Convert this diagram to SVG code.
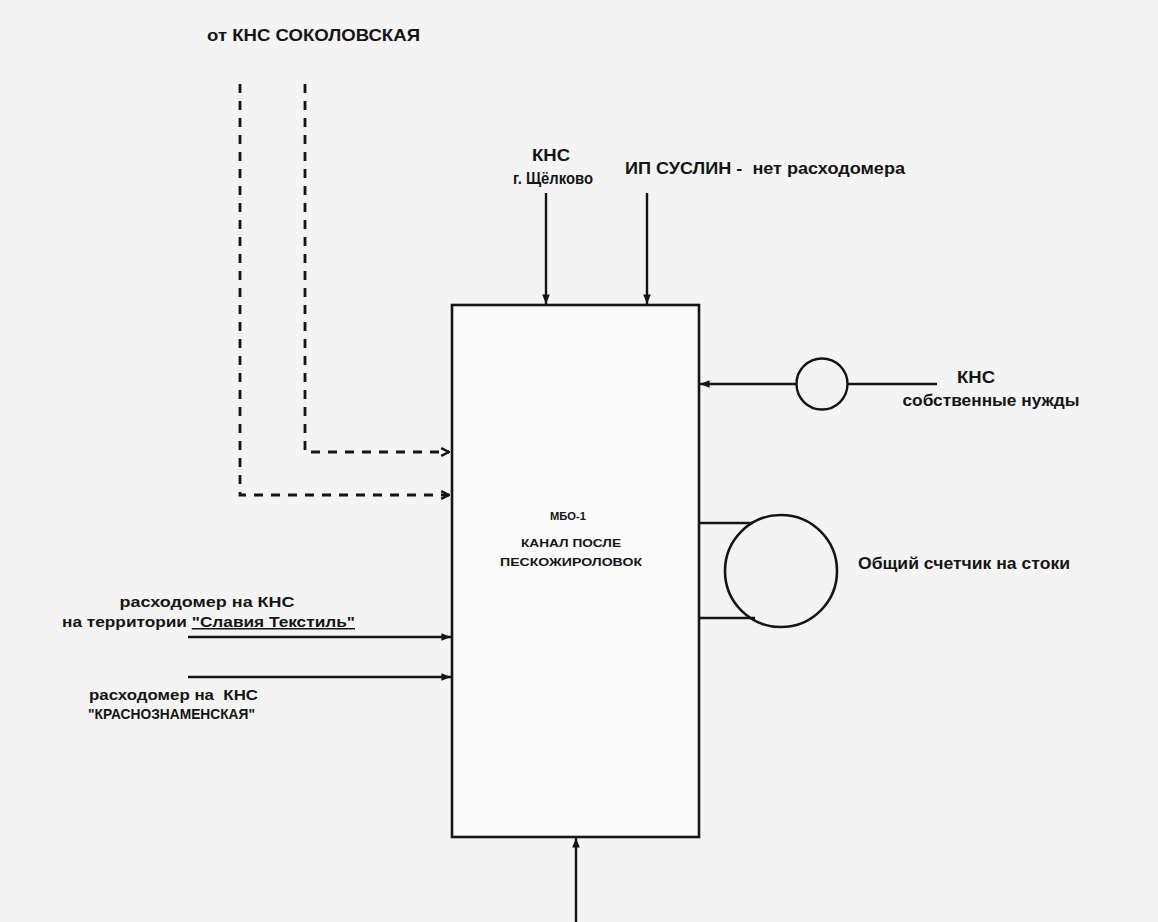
<svg xmlns="http://www.w3.org/2000/svg" width="1158" height="922" viewBox="0 0 1158 922">
<style>
.t{font-family:"Liberation Sans",Arial,sans-serif;font-weight:bold;fill:#151515}
.ln{stroke:#151515;stroke-width:2.4;fill:none}
.ds{stroke:#151515;stroke-width:2.8;fill:none;stroke-dasharray:9 8}
</style>
<defs>
<marker id="ah" viewBox="0 0 10 10" refX="10" refY="5" markerWidth="4" markerHeight="4" orient="auto" markerUnits="strokeWidth">
<path d="M0,1 L10,5 L0,9 z" fill="#151515"/>
</marker>
<marker id="ao" viewBox="0 0 10 10" refX="9" refY="5" markerWidth="3.5" markerHeight="3.5" orient="auto" markerUnits="strokeWidth">
<path d="M1,1 L9,5 L1,9" fill="none" stroke="#151515" stroke-width="2.5"/>
</marker>
</defs>
<rect width="1158" height="922" fill="#f4f4f4"/>
<g id="connectors">
<path class="ln" d="M546,193 V304" marker-end="url(#ah)"/>
<path class="ln" d="M647,193 V304" marker-end="url(#ah)"/>
<path class="ln" d="M576,922 V838" marker-end="url(#ah)"/>
<path class="ln" d="M797,384 H700" marker-end="url(#ah)"/>
<path class="ln" d="M848,384 H937"/>
<path class="ln" d="M188,637 H451" marker-end="url(#ah)"/>
<path class="ln" d="M188,677 H451" marker-end="url(#ah)"/>
<path class="ln" d="M699,523 H753"/>
<path class="ln" d="M699,618 H755"/>
<path class="ds" d="M305,84 V452 H449" marker-end="url(#ao)"/>
<path class="ds" d="M240,84 V495 H449" marker-end="url(#ao)"/>
</g>
<g id="mbo">
<rect x="452" y="305" width="247" height="532" fill="#fafafa" stroke="#151515" stroke-width="2.6"/>
<text class="t" x="568" y="520" font-size="11" text-anchor="middle" textLength="36" lengthAdjust="spacingAndGlyphs">МБО-1</text>
<text class="t" x="571" y="547" font-size="11" text-anchor="middle" textLength="100" lengthAdjust="spacingAndGlyphs">КАНАЛ ПОСЛЕ</text>
<text class="t" x="571" y="566" font-size="11" text-anchor="middle" textLength="142" lengthAdjust="spacingAndGlyphs">ПЕСКОЖИРОЛОВОК</text>
</g>
<g id="meter-small">
<circle cx="822" cy="384" r="25.5" fill="none" stroke="#151515" stroke-width="2.4"/>
</g>
<g id="meter-main">
<circle cx="781" cy="571" r="56" fill="none" stroke="#151515" stroke-width="2.6"/>
<text class="t" x="858" y="569" font-size="16" textLength="212" lengthAdjust="spacingAndGlyphs">Общий счетчик на стоки</text>
</g>
<g id="src-sokol">
<text class="t" x="207" y="41" font-size="17" textLength="213" lengthAdjust="spacingAndGlyphs">от КНС СОКОЛОВСКАЯ</text>
</g>
<g id="src-shchelkovo">
<text class="t" x="551" y="161" font-size="16" text-anchor="middle" textLength="38" lengthAdjust="spacingAndGlyphs">КНС</text>
<text class="t" x="553" y="184" font-size="16" text-anchor="middle" textLength="80" lengthAdjust="spacingAndGlyphs">г. Щёлково</text>
</g>
<g id="src-suslin">
<text class="t" x="625" y="174" font-size="16" textLength="280" lengthAdjust="spacingAndGlyphs" xml:space="preserve">ИП СУСЛИН -  нет расходомера</text>
</g>
<g id="src-own">
<text class="t" x="976" y="383" font-size="16" text-anchor="middle" textLength="38" lengthAdjust="spacingAndGlyphs">КНС</text>
<text class="t" x="991" y="406" font-size="16" text-anchor="middle" textLength="177" lengthAdjust="spacingAndGlyphs">собственные нужды</text>
</g>
<g id="src-slavia">
<text class="t" x="207" y="607" font-size="15" text-anchor="middle" textLength="175" lengthAdjust="spacingAndGlyphs">расходомер на КНС</text>
<text class="t" x="62" y="627" font-size="15" textLength="293" lengthAdjust="spacingAndGlyphs">на территории <tspan text-decoration="underline">"Славия Текстиль"</tspan></text>
</g>
<g id="src-krasno">
<text class="t" x="89" y="700" font-size="15" textLength="169" lengthAdjust="spacingAndGlyphs" xml:space="preserve">расходомер на  КНС</text>
<text class="t" x="88" y="719" font-size="15" textLength="167" lengthAdjust="spacingAndGlyphs">"КРАСНОЗНАМЕНСКАЯ"</text>
</g>
</svg>
